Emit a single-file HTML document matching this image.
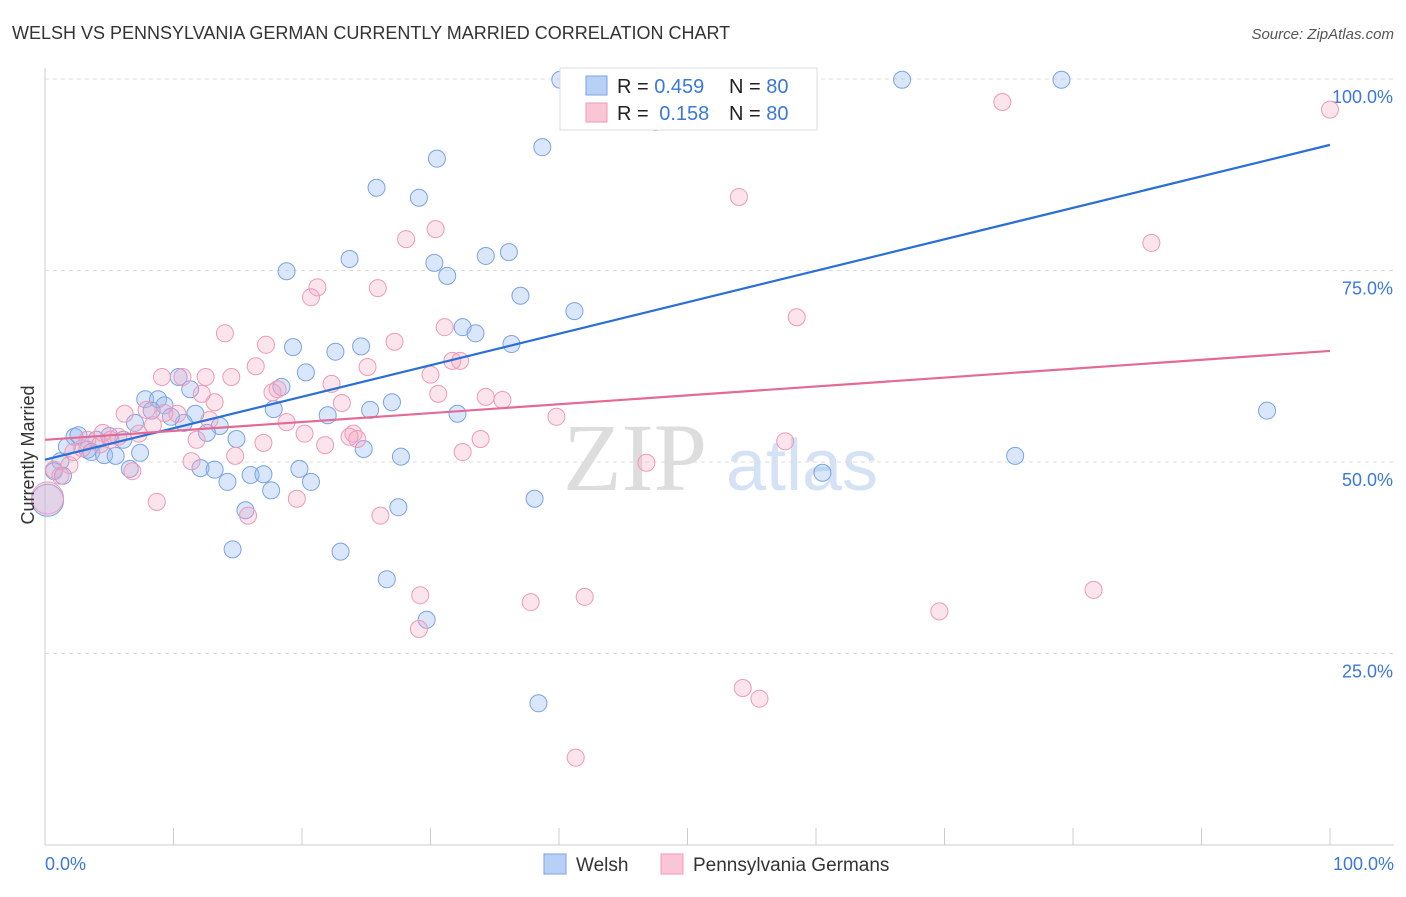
<!DOCTYPE html>
<html><head><meta charset="utf-8"><style>
body{margin:0;background:#fff;font-family:"Liberation Sans",sans-serif;}
svg text{font-family:"Liberation Sans",sans-serif;}
</style></head><body>
<svg width="1406" height="892" viewBox="0 0 1406 892">
<text x="12" y="39" font-size="18" fill="#333">WELSH VS PENNSYLVANIA GERMAN CURRENTLY MARRIED CORRELATION CHART</text>
<text x="1394" y="39" font-size="15" fill="#555" font-style="italic" text-anchor="end">Source: ZipAtlas.com</text>
<g>
<text x="635" y="490" font-size="96" fill="#ddd" text-anchor="middle" font-family="Liberation Serif" style="font-family:'Liberation Serif',serif">ZIP</text>
<text x="802" y="490" font-size="72" fill="#d5e2f5" text-anchor="middle">atlas</text>
</g>
<g id="grid"></g>
<g id="axes"></g>
<g id="pts"></g>
<g id="lines"></g>
<text transform="translate(34,455) rotate(-90)" font-size="18" fill="#333" text-anchor="middle">Currently Married</text>
<text x="45" y="870" font-size="18" fill="#3b78d8">0.0%</text>
<text x="1394" y="870" font-size="18" fill="#3b78d8" text-anchor="end">100.0%</text>
<g>
<rect x="560" y="68" width="257" height="62" fill="#fff" stroke="#ddd"/>
<rect x="586" y="76" width="21" height="19" fill="#b8d0f5" stroke="#7aa3e5"/>
<rect x="586" y="103" width="21" height="19" fill="#fac6d6" stroke="#ee9ab6"/>
<text x="617" y="93" font-size="20" fill="#222">R = <tspan fill="#3b78d8">0.459</tspan></text>
<text x="729" y="93" font-size="20" fill="#222">N = <tspan fill="#3b78d8">80</tspan></text>
<text x="617" y="120" font-size="20" fill="#222">R = <tspan fill="#3b78d8" dx="5">0.158</tspan></text>
<text x="729" y="120" font-size="20" fill="#222">N = <tspan fill="#3b78d8">80</tspan></text>
</g>
<g>
<rect x="544" y="854" width="22" height="20" fill="#b8d0f5" stroke="#7aa3e5"/>
<text x="576" y="871" font-size="19" fill="#333">Welsh</text>
<rect x="661" y="854" width="22" height="20" fill="#fac6d6" stroke="#ee9ab6"/>
<text x="693" y="871" font-size="19" fill="#333">Pennsylvania Germans</text>
</g>
</svg>
<script>
const yTicks=[25,50,75,100];
const yTickLabels=["25.0%","50.0%","75.0%","100.0%"];
const xTicks=[0,10,20,30,40,50,60,70,80,90,100];
const welshX=[40.1,54.1,66.7,79.1,47.5,38.7,30.5,25.8,29.1,23.7,18.8,30.3,31.3,34.3,36.1,37.0,41.2,32.5,33.5,36.3,19.3,22.6,24.6,20.3,10.4,11.3,7.8,8.8,9.3,8.3,11.7,17.8,18.4,25.3,27.0,22.0,32.1,10.8,9.8,7.0,13.6,12.6,14.9,6.1,5.0,4.0,2.3,2.6,3.3,3.6,4.6,5.5,7.4,1.7,1.2,0.7,1.4,6.6,12.1,13.2,16.0,17.0,19.8,14.2,20.7,17.6,24.8,27.7,15.6,27.5,38.1,14.6,23.0,26.6,29.7,38.4,95.1,75.5,60.5,0.2];
const welshY=[99.9,99.9,99.9,99.9,94.4,91.1,89.6,85.8,84.5,76.5,74.9,76.0,74.3,76.9,77.4,71.7,69.7,67.6,66.8,65.4,65.0,64.4,65.1,61.7,61.1,59.5,58.2,58.2,57.4,56.7,56.3,56.9,59.8,56.8,57.8,56.1,56.3,55.1,55.9,55.1,54.7,53.8,53.0,52.9,53.4,52.9,53.3,53.5,51.6,51.3,50.9,50.8,51.2,52.0,50.1,48.8,48.2,49.1,49.2,49.0,48.3,48.4,49.1,47.4,47.4,46.3,51.7,50.7,43.7,44.1,45.2,38.6,38.3,34.7,29.4,18.5,56.7,50.8,48.6,45.0];
const paX=[50.2,74.5,100,54.0,30.4,28.1,86.1,21.2,20.7,25.9,58.5,14.0,17.2,27.2,31.1,31.7,32.3,25.1,30.0,16.4,9.1,10.7,12.5,14.5,22.3,18.1,30.6,34.3,35.6,23.1,13.2,6.2,7.9,10.3,12.8,18.8,39.8,8.4,11.8,7.3,20.2,24.0,24.3,33.9,17.0,21.8,57.6,32.5,14.8,11.4,4.5,3.3,4.3,1.9,0.7,1.2,6.8,46.8,8.7,19.6,15.8,26.1,29.2,37.8,42.0,29.1,69.6,81.6,54.3,55.6,41.3,0.2,5.7,2.2,2.9,5.1,9.3,12.2,17.7,23.7];
const paY=[99.9,97.0,96.0,84.6,80.4,79.1,78.6,72.8,71.5,72.7,68.9,66.8,65.3,65.7,67.6,63.2,63.2,62.4,61.4,62.5,61.1,61.1,61.1,61.1,60.2,59.5,58.9,58.5,58.1,57.7,57.8,56.3,56.8,56.3,55.5,55.2,55.9,54.8,52.9,53.7,53.7,53.7,53.0,53.0,52.5,52.2,52.7,51.3,50.8,50.1,53.8,52.9,52.3,49.6,49.0,48.2,48.8,49.9,44.8,45.2,43.0,43.0,32.6,31.7,32.4,28.2,30.5,33.3,20.5,19.1,11.4,45.3,53.3,51.3,51.8,52.9,56.4,58.9,59.1,53.3];
const welshTrend=[50.3,91.4];
const paTrend=[52.9,64.5];
const NS="http://www.w3.org/2000/svg";
const X=v=>45+v*12.85, Y=v=>845-v*7.66;
function mk(t,a,p){const e=document.createElementNS(NS,t);for(const k in a)e.setAttribute(k,a[k]);p.appendChild(e);return e;}
const grid=document.getElementById('grid'),axes=document.getElementById('axes'),pts=document.getElementById('pts'),lines=document.getElementById('lines');
yTicks.forEach((t,i)=>{
 const l=mk('line',{x1:45,x2:1394,y1:Y(t),y2:Y(t),stroke:'#ddd','stroke-dasharray':'4,4'},grid);
 
 
 const tx=mk('text',{x:1393,y:Y(t)+24,'font-size':18,fill:'#3b78d8','text-anchor':'end'},grid);
 tx.textContent=yTickLabels[i];
 
 
});
const ya=mk('line',{x1:45,x2:45,y1:68,y2:845,stroke:'#ccc'},axes);


const xa=mk('line',{x1:45,x2:1394,y1:845,y2:845,stroke:'#ccc'},axes);


xTicks.forEach(t=>{
 const l=mk('line',{x1:X(t),x2:X(t),y1:828,y2:845,stroke:'#ccc'},axes);
 
 
});
function series(xs,ys,fill,stroke,name){
 xs.forEach((x,i)=>{
  const big=(x<0.5);
  const c=mk('circle',{cx:X(x),cy:Y(ys[i]),r:big?16:8.5,fill:fill,stroke:stroke,'stroke-width':1},pts);
  
  
 });
}
series(welshX,welshY,'rgba(150,185,240,0.35)','#7aa3e5','welsh-point');
series(paX,paY,'rgba(245,165,195,0.3)','#ee9ab6','pa-german-point');
const l1=mk('line',{x1:X(0),y1:Y(welshTrend[0]),x2:X(100),y2:Y(welshTrend[1]),stroke:'#2a6fd6','stroke-width':2.2},lines);


const l2=mk('line',{x1:X(0),y1:Y(paTrend[0]),x2:X(100),y2:Y(paTrend[1]),stroke:'#e46a96','stroke-width':2.2},lines);


</script>
</body></html>
